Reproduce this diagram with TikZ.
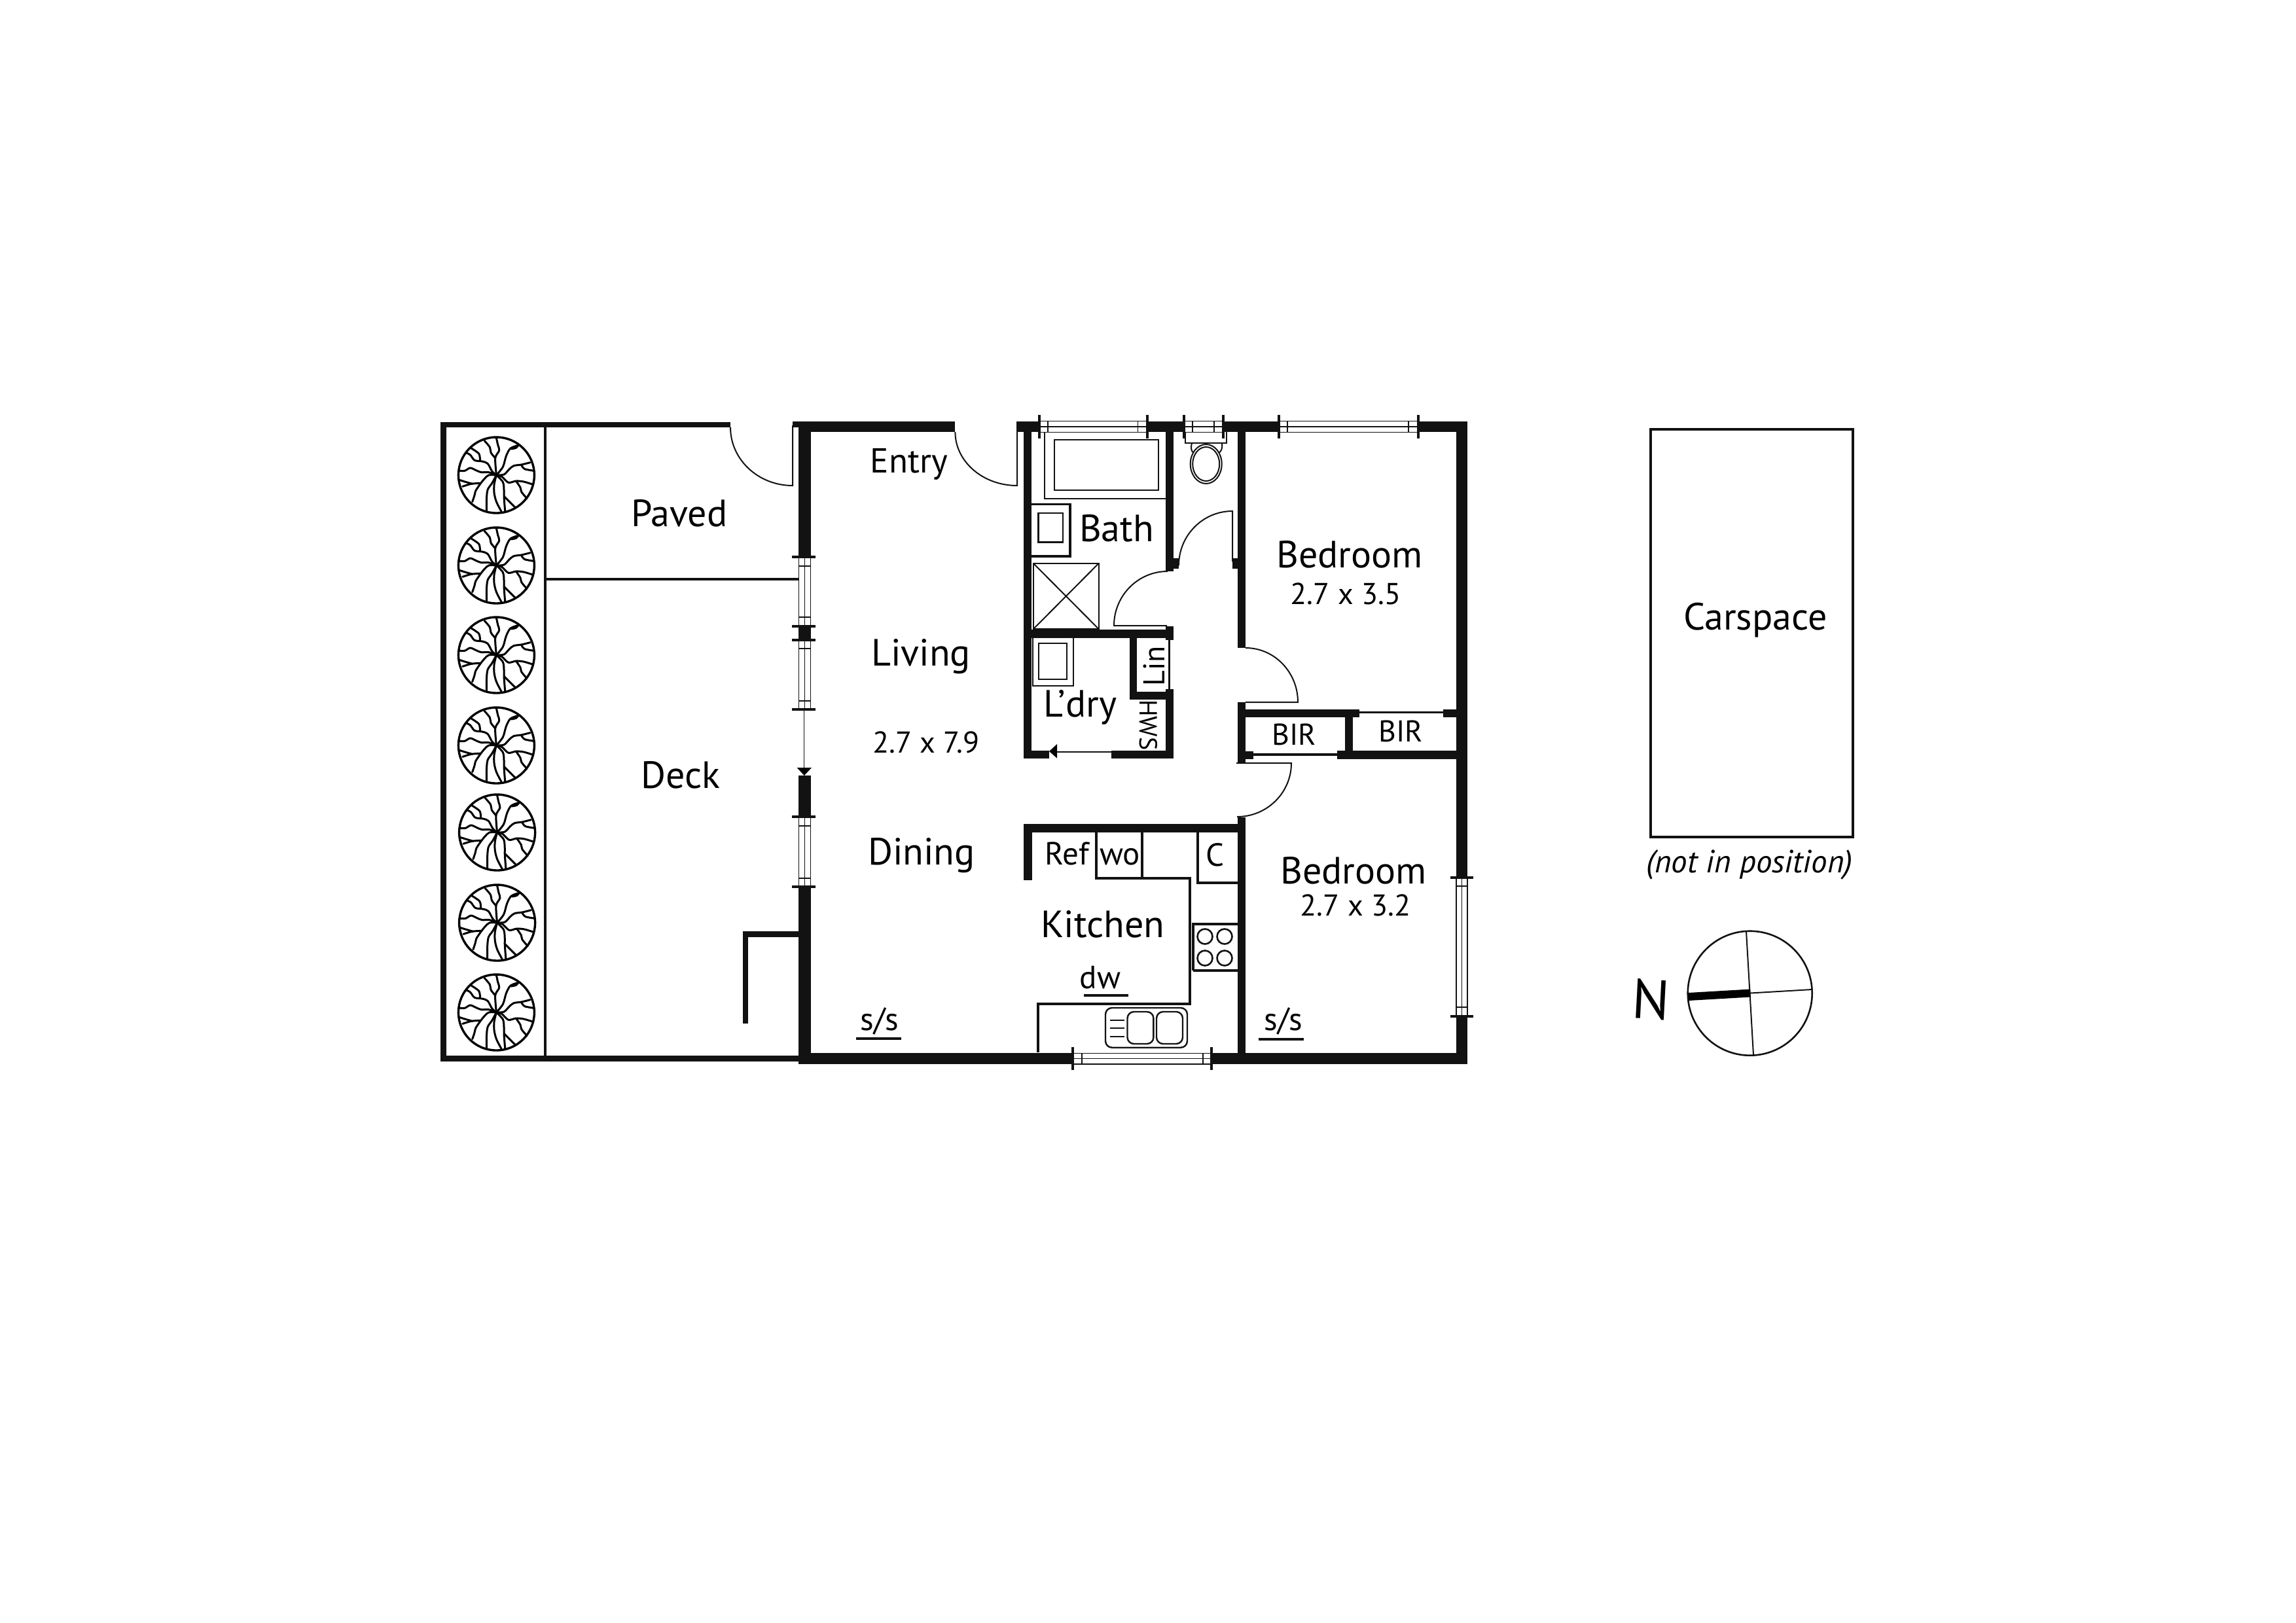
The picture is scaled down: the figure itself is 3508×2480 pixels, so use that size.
\documentclass[tikz,border=0pt]{standalone}
\usepackage{fontspec}
\setmainfont{PT Sans}
\definecolor{ink}{gray}{0.07}
\tikzset{
  x=1pt,y=-1pt,
  thin line/.style={draw=ink,line width=2pt},
  fine line/.style={draw=ink,line width=1.6pt},
  med line/.style={draw=ink,line width=4pt},
  lbl/.style={anchor=base,inner sep=0pt,text=black},
  big/.style={lbl,font=\fontsize{58}{62}\selectfont},
  mid/.style={lbl,font=\fontsize{49}{53}\selectfont},
  dim/.style={lbl,font=\fontsize{46}{50}\selectfont},
  branch/.style={draw=black,line width=3pt,line cap=round,line join=round},
}
\newcommand{\wall}[4]{\fill[ink] (#1,#2) rectangle (#3,#4);}
% horizontal window: x1 x2 inner1 inner2 y1 y2 tick-top tick-bottom
\newcommand{\hwin}[8]{%
  \fill[white] (#1,#5) rectangle (#2,#6);
  \draw[fine line] (#1,#5) -- (#2,#5) (#1,{(#5+#6)/2}) -- (#2,{(#5+#6)/2}) (#1,#6) -- (#2,#6);
  \draw[fine line] (#3,#5) -- (#3,#6) (#4,#5) -- (#4,#6);
  \draw[draw=ink,line width=4pt] (#1,#7) -- (#1,#8) (#2,#7) -- (#2,#8);}
% vertical window: y1 y2 inner1 inner2 x1 x2 tick-left tick-right
\newcommand{\vwin}[8]{%
  \fill[white] (#5,#1) rectangle (#6,#2);
  \draw[fine line] (#5,#1) -- (#5,#2) ({(#5+#6)/2},#1) -- ({(#5+#6)/2},#2) (#6,#1) -- (#6,#2);
  \draw[fine line] (#5,#3) -- (#6,#3) (#5,#4) -- (#6,#4);
  \draw[draw=ink,line width=4pt] (#7,#1) -- (#8,#1) (#7,#2) -- (#8,#2);}
\newcommand{\tree}[2]{%
\begin{scope}[shift={(#1,#2)},x=0.3333pt,y=-0.3333pt]
  \draw[draw=black,line width=3.4pt] (0,0) ellipse [x radius=174,y radius=174];
  \draw[branch,smooth] plot coordinates {(0,0)(-5,-78)(13,-113)(7,-138)(0,-170)};
  \draw[branch,smooth] plot coordinates {(-5,-78)(-25,-103)(-30,-128)(-55,-158)};
  \draw[branch,smooth] plot coordinates {(0,0)(30,-38)(45,-88)(65,-123)(105,-138)};
  \draw[branch,smooth] plot coordinates {(68,-120)(90,-125)(100,-136)};
  \draw[branch,smooth] plot coordinates {(0,0)(35,-3)(60,-28)(80,-43)(115,-48)(155,-58)};
  \draw[branch,smooth] plot coordinates {(115,-45)(130,-28)(172,-20)};
  \draw[branch,smooth] plot coordinates {(0,0)(25,7)(55,34)(90,27)(125,30)(165,42)};
  \draw[branch,smooth] plot coordinates {(90,27)(110,57)(115,77)(140,107)};
  \draw[branch,smooth] plot coordinates {(0,0)(30,32)(35,72)(35,102)(40,167)};
  \draw[branch,smooth] plot coordinates {(35,97)(85,147)};
  \draw[branch,smooth] plot coordinates {(0,0)(-10,42)(-10,82)(0,122)(23,167)};
  \draw[branch,smooth] plot coordinates {(0,0)(-20,37)(-40,67)(-45,112)(-45,167)};
  \draw[branch,smooth] plot coordinates {(0,0)(-35,0)(-55,17)(-75,42)(-95,72)(-100,92)(-110,122)};
  \draw[branch,smooth] plot coordinates {(-75,37)(-115,40)(-155,52)};
  \draw[branch,smooth] plot coordinates {(-110,40)(-145,30)(-170,22)};
  \draw[branch,smooth] plot coordinates {(0,0)(-35,-13)(-70,-13)(-95,-23)(-120,-33)(-145,-20)(-170,-20)};
  \draw[branch,smooth] plot coordinates {(0,0)(-20,-18)(-40,-53)(-65,-63)(-100,-68)(-120,-93)(-140,-103)};
  \draw[branch,smooth] plot coordinates {(-75,-68)(-80,-98)(-115,-123)};
\end{scope}}
\begin{document}
\begin{tikzpicture}
\useasboundingbox (0,0) rectangle (3508,2480);
\fill[white] (0,0) rectangle (3508,2480);

% ---- deck and paved area
\wall{673.4}{645}{1116}{653}
\wall{673.4}{645}{681.8}{1621.7}
\wall{673.4}{1613.3}{1220}{1621.7}
\wall{831.4}{653}{835.3}{1613.3}
\wall{835.3}{883}{1220}{887.3}
\wall{1134.5}{1423}{1220}{1432}
\wall{1134.5}{1423}{1143}{1564}
\tree{758.4}{726}\tree{758.4}{864}\tree{758.4}{1001}\tree{758.4}{1139}
\tree{759.6}{1272}\tree{759.6}{1410}\tree{758.4}{1547}

% ---- main walls
\wall{1211}{644}{1239.5}{653}
\wall{1220}{643.6}{1459.4}{660.4}
\wall{1220}{643.6}{1238.8}{850.7}
\wall{1220}{957}{1238.8}{978}
\wall{1220}{1185}{1238.8}{1248}
\wall{1220}{1355}{1238.8}{1626}
\wall{1220}{1609.3}{2241.7}{1626}
\wall{1553}{643.6}{2241.7}{660.4}
\wall{2225}{643.6}{2241.7}{1341}
\wall{2225}{1553}{2241.7}{1626}

% ---- windows
\hwin{1587.5}{1752.8}{1601}{1738.6}{643.6}{660.4}{634}{670}
\hwin{1809}{1869}{1822}{1855}{643.6}{660.4}{634}{670}
\hwin{1954}{2166.7}{1967}{2152}{643.6}{660.4}{634}{670}
\hwin{1639}{1851}{1653}{1838}{1609.3}{1626}{1600}{1635}
\vwin{850.7}{957}{865}{943}{1220.6}{1238.6}{1210}{1246}
\vwin{978}{1084}{990.7}{1070.7}{1220.6}{1238.6}{1210}{1246}
\vwin{1248}{1355}{1261.7}{1341.7}{1220.6}{1238.6}{1210}{1246}
\vwin{1341}{1553.4}{1354}{1539}{2225}{2242}{2216}{2251}

% ---- sliding door on the deck side
\coordinate (slideTop) at (1228.5,1084);
\coordinate (slideEnd) at (1228.5,1173);
\draw[fine line] (slideTop) -- (slideEnd);
\fill[black] (1217.6,1173) -- (1240,1173) -- (1228.8,1185) -- cycle;

% ---- doors (angles run clockwise on screen, the y axis points down)
\draw[thin line] (1116,653) arc[start angle=180,end angle=90,x radius=95,y radius=89] -- (1211,650);
\draw[thin line] (1459.4,660) arc[start angle=180,end angle=90,x radius=94.6,y radius=82] -- (1554,650);
\draw[thin line] (1883,858) -- (1883,781) arc[start angle=270,end angle=180,x radius=82,y radius=83];
\draw[thin line] (1783,956) -- (1702,956) arc[start angle=180,end angle=270,x radius=82,y radius=83];
\draw[thin line] (1903,990) arc[start angle=270,end angle=360,x radius=80,y radius=83] -- (1903,1073);
\draw[thin line] (1889,1166) -- (1973,1166) arc[start angle=0,end angle=90,x radius=83,y radius=82];

% ---- interior walls
\wall{1563.8}{643.6}{1576.4}{1158.6}
\wall{1780.5}{660}{1793}{873}
\wall{1793}{853}{1801}{869}
\wall{1883}{853}{1891}{869}
\wall{1891}{660}{1903}{990}
\wall{1891}{1073}{1903}{1166}
\wall{1891}{1248.5}{1903}{1626}
\wall{1564}{962}{1781}{975}
\wall{1781}{957}{1793}{978}
\wall{1784.5}{975}{1787.5}{1053}
\wall{1726}{975}{1737}{1068.6}
\wall{1726}{1057}{1793}{1068.6}
\wall{1781}{1053}{1793}{1158.6}
\wall{1564}{1147}{1603}{1158.6}
\wall{1698}{1147}{1793}{1158.6}
\draw[thin line] (1698,1148.5) -- (1612,1148.5);
\fill[black] (1603,1148) -- (1615,1137) -- (1615,1158.6) -- cycle;

% ---- built-in robes
\wall{1903}{1084}{2077}{1096}
\wall{2077}{1086.5}{2205}{1090}
\wall{2205}{1084}{2225}{1096}
\wall{2055}{1096}{2067}{1147}
\wall{2043}{1147}{2225}{1160}
\wall{1915}{1151}{2043}{1155}
\wall{1903}{1148}{1915}{1160}

% ---- kitchen walls and benches
\wall{1564}{1259}{1891}{1272}
\wall{1564}{1259}{1576.5}{1345}
\draw[med line] (1675,1272) -- (1675,1342) -- (1817.5,1342) -- (1817.5,1534) -- (1585.7,1534) -- (1585.7,1607.7);
\draw[med line] (1745,1272) -- (1745,1342);
\draw[med line] (1830,1272) -- (1830,1348.5) -- (1891,1348.5);
\draw[med line] (1823,1483) -- (1823,1412) -- (1891,1412) (1823,1483) -- (1891,1483);
\foreach \bx in {1841,1871}\foreach \by in {1431,1464}{\draw[draw=ink,line width=2.6pt] (\bx,\by) circle[radius=11.5];}
% sink
\draw[draw=ink,line width=2.4pt,rounded corners=10pt] (1689,1540) rectangle (1814,1600.7);
\draw[draw=ink,line width=2.4pt,rounded corners=10pt] (1722.5,1546) rectangle (1762.4,1595);
\draw[draw=ink,line width=2.4pt,rounded corners=10pt] (1767,1546) rectangle (1807,1595);
\draw[draw=ink,line width=2.4pt] (1696,1558.7) -- (1718,1558.7) (1696,1571) -- (1718,1571) (1696,1584) -- (1718,1584);
\wall{1655.5}{1519.3}{1724}{1523.3}
\wall{1308}{1585}{1377}{1589}
\wall{1922.7}{1586}{1991.7}{1589.5}

% ---- bathroom fittings
\draw[thin line] (1596,660) -- (1596,762) -- (1780.5,762);
\draw[draw=ink,line width=2.6pt] (1611,672) rectangle (1770,749);
\draw[draw=ink,line width=3.6pt] (1576,770.4) -- (1635,770.4) -- (1635,850.2) -- (1576,850.2);
\draw[draw=ink,line width=2.6pt] (1586.7,784) rectangle (1624,828.6);
\draw[thin line] (1579,861) rectangle (1678.5,961);
\draw[thin line] (1579,861) -- (1678.5,961) (1579,961) -- (1678.5,861);
\draw[draw=ink,line width=2.6pt] (1578,975) -- (1578,1048) -- (1640,1048) -- (1640,975);
\draw[draw=ink,line width=2pt] (1587,982.5) rectangle (1630,1038);
% toilet
\draw[thin line] (1811,660.4) -- (1811,677) -- (1874,677) -- (1874,660.4);
\draw[thin line] (1821,677) .. controls (1819,685) and (1820,690) .. (1824,692);
\draw[thin line] (1867,677) .. controls (1868,685) and (1866,690) .. (1862,692);
\fill[white] (1842.7,709) ellipse[x radius=24,y radius=30];
\draw[thin line] (1842.7,709) ellipse[x radius=24,y radius=30];
\draw[thin line] (1842.7,709) ellipse[x radius=20.5,y radius=26];

% ---- carspace
\draw[med line] (2522,655.5) rectangle (2831,1279);

% ---- north point
\node[circle,draw=ink,line width=2.6pt,minimum size=190pt,inner sep=0pt] (compass) at (2673.7,1517.7) {};
\coordinate (cc) at (2674.5,1517.5);
\draw[draw=ink,line width=2pt] (2668,1423) -- (2679,1612);
\draw[draw=ink,line width=2pt] (cc) -- (2768,1512);
\draw[draw=black,line width=12pt] (cc) -- (2579.5,1523);

% ---- labels
\node[big] (paved) at (1038,804) {Paved};
\node[big] (deck) at (1040,1204) {Deck};
\node[lbl,font=\fontsize{53}{57}\selectfont] (entry) at (1389,722) {Entry};
\node[big] (living) at (1407,1017.5) {Living};
\node[dim] (livingdim) at (1415,1150.7) {2.7 x 7.9};
\node[big] (bath) at (1706,827) {Bath};
\node[big] (ldry) at (1650,1095) {L’dry};
\node[lbl,font=\fontsize{46}{50}\selectfont,rotate=90] (lin) at (1779,1017.5) {Lin};
\node[lbl,font=\fontsize{38}{42}\selectfont,rotate=-90] (hws) at (1741,1108) {HWS};
\node[big] (dining) at (1408,1321.7) {Dining};
\node[mid] (ref) at (1630,1321.7) {Ref};
\node[mid] (wo) at (1711,1321.7) {wo};
\node[mid] (c) at (1856,1323) {C};
\node[big] (kitchen) at (1685,1432.7) {Kitchen};
\node[mid] (dw) at (1681,1510) {dw};
\node[mid] (ss1) at (1344,1574) {s/s};
\node[mid] (ss2) at (1961,1574.7) {s/s};
\node[big] (bed1) at (2062,867.5) {Bedroom};
\node[dim] (bed1dim) at (2056,923) {2.7 x 3.5};
\node[lbl,font=\fontsize{46}{50}\selectfont] (bir1) at (1977,1138) {BIR};
\node[lbl,font=\fontsize{46}{50}\selectfont] (bir2) at (2140,1133.6) {BIR};
\node[big] (bed2) at (2068,1350) {Bedroom};
\node[dim] (bed2dim) at (2071,1399) {2.7 x 3.2};
\node[big] (car) at (2682,962) {Carspace};
\node[mid] (notpos) at (2673,1333) {\itshape (not in position)};
\node[lbl,font=\fontsize{85}{90}\selectfont,rotate=-3] (north) at (2521,1557) {N};
\end{tikzpicture}
\end{document}
